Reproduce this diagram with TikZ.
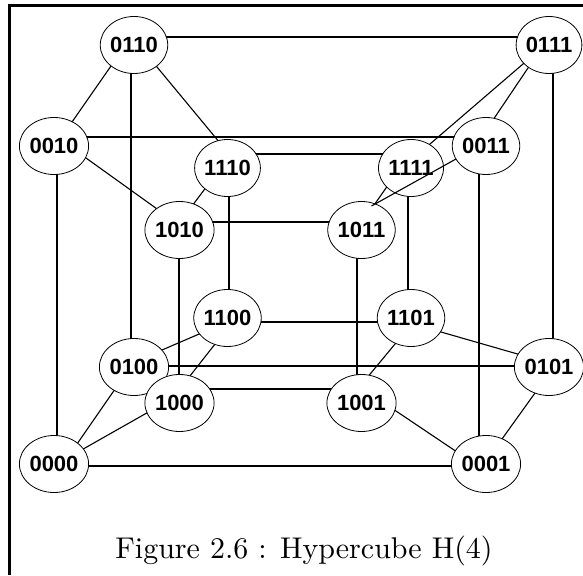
\documentclass[tikz,border=0pt]{standalone}
\usepackage{fontspec}
\newfontfamily\labfont{Liberation Sans}
\newfontfamily\capfont{lmroman10-regular.otf}
\usetikzlibrary{shapes.geometric,calc,backgrounds}
\begin{document}
\begin{tikzpicture}[x=1pt,y=-1pt,
  v/.style={ellipse,draw,line width=0.8pt,fill=white,minimum width=65pt,minimum height=57pt,inner sep=0pt,
    font=\labfont\bfseries\fontsize{22}{22}\selectfont},
  e/.style={line width=1.1pt},
  ed/.style={e,shorten <=-4pt,shorten >=-4pt},
  frame/.style={line width=3pt}]
\useasboundingbox (0,0) rectangle (583,575);
\draw[frame] (9.5,575) -- (9.5,5.5) -- (583,5.5);
% nodes
\node[v] (n0110) at (134,45) {0110};
\node[v] (n0111) at (549,45) {0111};
\node[v] (n0010) at (54,146) {0010};
\node[v] (n0011) at (486,146) {0011};
\node[v] (n1110) at (227.5,168) {1110};
\node[v] (n1111) at (411,168) {1111};
\node[v] (n1010) at (179.5,230) {1010};
\node[v] (n1011) at (361.5,230) {1011};
\node[v] (n1100) at (227.5,318) {1100};
\node[v] (n1101) at (411,318) {1101};
\node[v] (n0100) at (134,367) {0100};
\node[v] (n0101) at (549,367) {0101};
\node[v] (n1000) at (179.5,403) {1000};
\node[v] (n1001) at (361.5,403) {1001};
\node[v] (n0000) at (54,464) {0000};
\node[v] (n0001) at (486,464) {0001};
\begin{pgfonlayer}{background}
% horizontal edges
\draw[e] ($(n0110)+(0,-8)$) -- ($(n0111)+(0,-8)$);
\draw[e] ($(n0010)+(0,-9)$) -- ($(n0011)+(0,-9)$);
\draw[e] ($(n1110)+(0,-14)$) -- ($(n1111)+(0,-14)$);
\draw[e] ($(n1010)+(0,-8)$) -- ($(n1011)+(0,-8)$);
\draw[e] ($(n1100)+(0,4)$) -- ($(n1101)+(0,4)$);
\draw[e] ($(n0100)+(0,-1)$) -- ($(n0101)+(0,-1)$);
\draw[e] ($(n1000)+(0,-14)$) -- ($(n1001)+(0,-14)$);
\draw[e] ($(n0000)+(0,2)$) -- ($(n0001)+(0,2)$);
% vertical edges
\draw[e] ($(n0000)+(3,0)$) -- ($(n0010)+(3,0)$);
\draw[e] ($(n0001)+(-7,0)$) -- ($(n0011)+(-7,0)$);
\draw[e] ($(n0100)+(-3,0)$) -- ($(n0110)+(-3,0)$);
\draw[e] ($(n0101)+(4,0)$) -- ($(n0111)+(4,0)$);
\draw[e] ($(n1000)+(-0.5,0)$) -- ($(n1010)+(-0.5,0)$);
\draw[e] ($(n1001)+(-4.5,0)$) -- ($(n1011)+(-4.5,0)$);
\draw[e] ($(n1100)+(1.5,0)$) -- ($(n1110)+(1.5,0)$);
\draw[e] ($(n1101)+(-3,0)$) -- ($(n1111)+(-3,0)$);
% diagonal edges
\draw[ed] ($(n0000)+(23,-20)$) -- ($(n0100)+(-21,25)$);
\draw[ed] ($(n0000)+(31,-16)$) -- ($(n1000)+(-31,9)$);
\draw[ed] ($(n0100)+(28,-17)$) -- ($(n1100)+(-26,15)$);
\draw[ed] ($(n1000)+(12,-29)$) -- ($(n1100)+(-14,28)$);
\draw[ed] ($(n0001)+(16,-25)$) -- ($(n0101)+(-14,26)$);
\draw[ed] ($(n0001)+(-29,-12)$) -- ($(n1001)+(33,7)$);
\draw[ed] ($(n1001)+(7,-27)$) -- ($(n1101)+(-16,26)$);
\draw[ed] ($(n0101)+(-28,-12)$) -- ($(n1101)+(30,14)$);
\draw[ed] ($(n0010)+(18,-24)$) -- ($(n0110)+(-23,21)$);
\draw[ed] ($(n0010)+(32,12)$) -- ($(n1010)+(-21,-20)$);
\draw[ed] ($(n0110)+(23,22)$) -- ($(n1110)+(-10,-28)$);
\draw[ed] ($(n1010)+(14,-26)$) -- ($(n1110)+(-22,20)$);
\draw[ed] ($(n0011)+(9,-29)$) -- ($(n0111)+(-21,23)$);
\draw[ed] ($(n0111)+(-26,19)$) -- ($(n1111)+(19,-24)$);
\draw[ed] ($(n1011)+(14,-27)$) -- ($(n1111)+(-25,20)$);
\end{pgfonlayer}
% edge drawn across 1111
\draw[e] ($(n0011)+(-30,13)$) -- ($(n1011)+(10,-24)$);
% caption
\node[anchor=base,font=\capfont\fontsize{30}{30}\selectfont] (cap) at (304,558) {Figure 2.6 : Hypercube H(4)};
\end{tikzpicture}
\end{document}
